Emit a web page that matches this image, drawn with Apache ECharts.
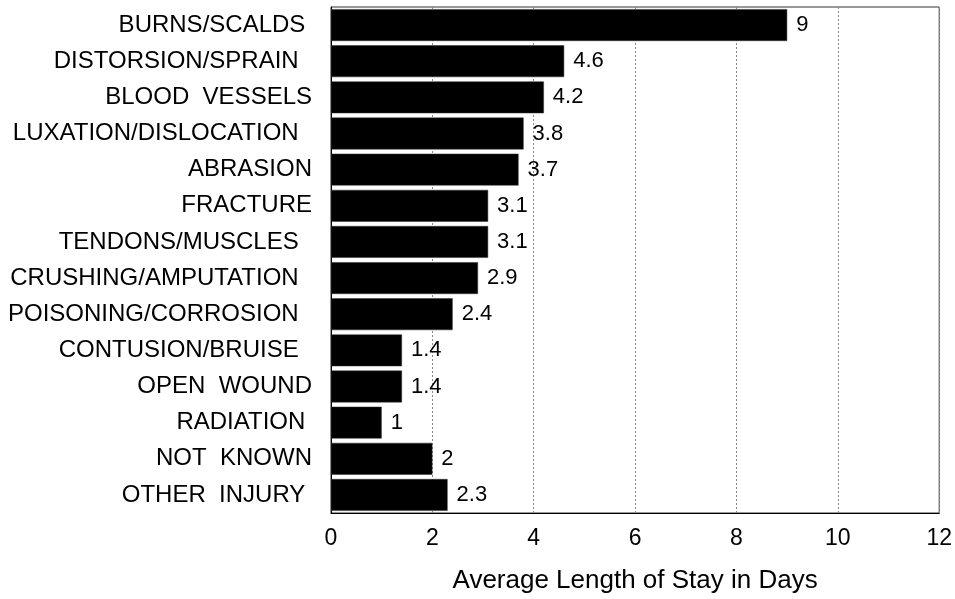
<!DOCTYPE html>
<html>
<head>
<meta charset="utf-8">
<script src="https://cdn.jsdelivr.net/npm/echarts@6/dist/echarts.min.js"></script>
<style>html,body{margin:0;padding:0;background:#fff}#c{width:955px;height:599px}</style>
</head>
<body>
<div id="c"></div>
<script>
var categories = [
  "BURNS/SCALDS ",
  "DISTORSION/SPRAIN  ",
  "BLOOD  VESSELS",
  "LUXATION/DISLOCATION  ",
  "ABRASION",
  "FRACTURE",
  "TENDONS/MUSCLES  ",
  "CRUSHING/AMPUTATION  ",
  "POISONING/CORROSION  ",
  "CONTUSION/BRUISE  ",
  "OPEN  WOUND",
  "RADIATION ",
  "NOT  KNOWN",
  "OTHER  INJURY "
];
var values = [9, 4.6, 4.2, 3.8, 3.7, 3.1, 3.1, 2.9, 2.4, 1.4, 1.4, 1, 2, 2.3];
var xTicks = [0, 2, 4, 6, 8, 10, 12];
var xTitle = "Average Length of Stay in Days";

var font = "'Liberation Sans', Arial, sans-serif";
var chart = echarts.init(document.getElementById('c'), null, {renderer: 'canvas'});
chart.setOption({
  animation: false,
  backgroundColor: '#fff',
  grid: {left: 331, right: 12, top: 7, bottom: 85, show: true, borderColor: '#333', borderWidth: 1, backgroundColor: 'transparent'},
  xAxis: {
    type: 'value', min: xTicks[0], max: xTicks[xTicks.length - 1], interval: 2,
    name: xTitle, nameLocation: 'middle', nameGap: 55,
    nameTextStyle: {fontFamily: font, fontSize: 26, color: '#000'},
    axisLine: {show: true, lineStyle: {color: '#000', width: 1}},
    axisTick: {show: false},
    axisLabel: {fontFamily: font, fontSize: 23, color: '#000', margin: 14},
    splitLine: {show: true, lineStyle: {color: '#888', type: [2, 2], width: 1}}
  },
  yAxis: {
    type: 'category', data: categories, inverse: true,
    axisLine: {show: true, lineStyle: {color: '#000', width: 1}},
    axisTick: {show: false},
    axisLabel: {fontFamily: font, fontSize: 24, color: '#000', margin: 19},
    splitLine: {show: false}
  },
  series: [{
    type: 'bar', data: values, barCategoryGap: '12%',
    itemStyle: {color: '#000', borderColor: '#333', borderWidth: 0.5},
    label: {show: true, position: 'right', distance: 9, fontFamily: font, fontSize: 22, color: '#000'}
  }]
});
</script>
</body>
</html>
